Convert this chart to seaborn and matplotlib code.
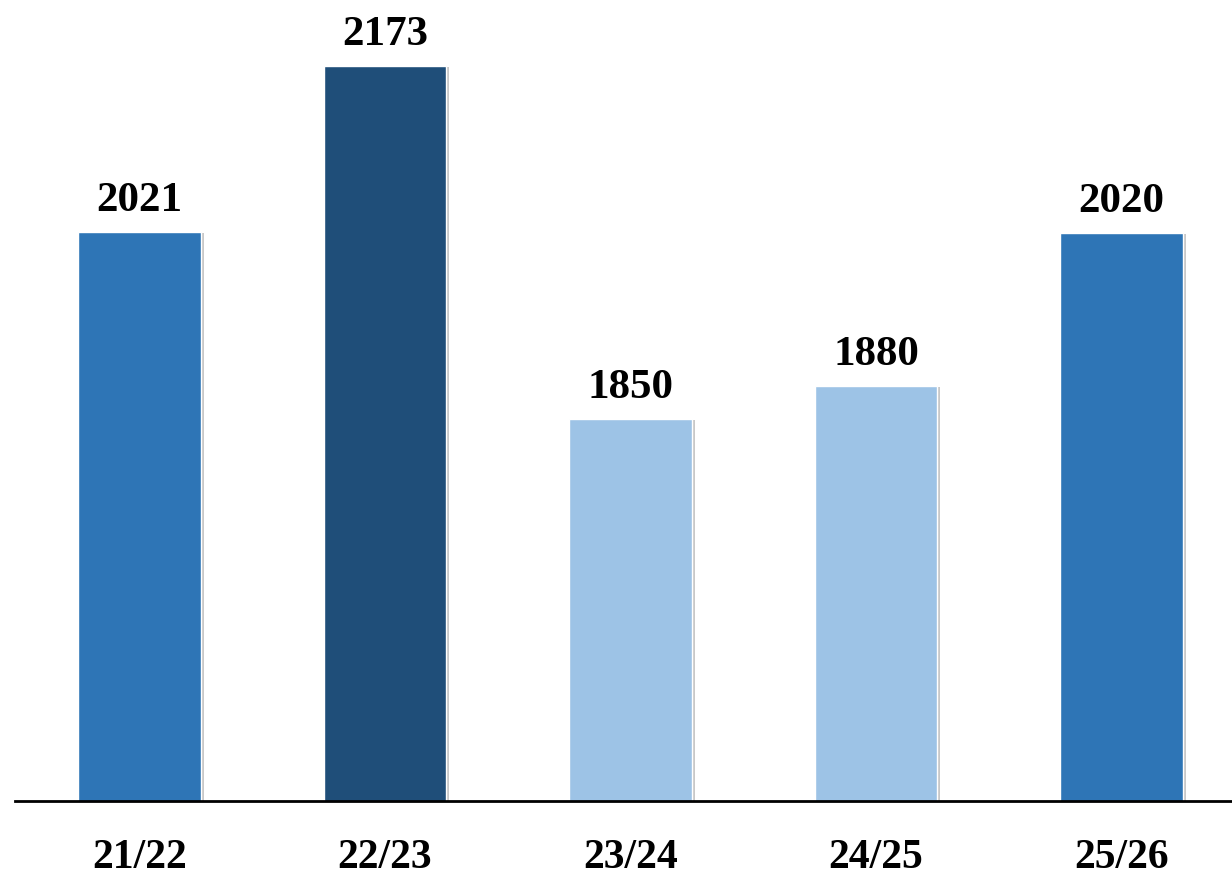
import pandas as pd
import matplotlib
matplotlib.use('Agg')
import matplotlib.pyplot as plt
import matplotlib.patheffects as pe
import seaborn as sns

seasons = ['21/22', '22/23', '23/24', '24/25', '25/26']
values = [2021, 2173, 1850, 1880, 2020]
bar_colors = ['#2E75B6', '#1F4E79', '#9DC3E6', '#9DC3E6', '#2E75B6']

df = pd.DataFrame({'season': seasons, 'value': values})

sns.set_style('white')
plt.rcParams['font.family'] = ['Liberation Serif', 'DejaVu Serif']

fig = plt.figure(figsize=(12.32, 8.76), dpi=100)
ax = fig.add_axes([15 / 1232, 1 - 801 / 876, 1 - 15 / 1232, 801 / 876])
ax.patch.set_alpha(0)

sns.barplot(data=df, x='season', y='value', hue='season', palette=bar_colors,
            width=0.5, legend=False, ax=ax, saturation=1)

# light drop shadow on the bars
for bar in ax.patches:
    bar.set_path_effects([pe.SimplePatchShadow(offset=(2, -1), shadow_rgbFace='#777777', alpha=0.4),
                          pe.Normal()])

for i, v in enumerate(values):
    ax.annotate(str(v), (i, v), xytext=(0, 15), textcoords='offset points',
                ha='center', va='baseline', fontsize=31, fontweight='bold', color='black')

ax.set_xlim(-0.507, 4.45)
ax.set_ylim(1500, 2233)
ax.set_xlabel('')
ax.set_ylabel('')
ax.set_yticks([])
ax.tick_params(axis='x', length=0, pad=27, labelsize=30, labelcolor='black')
for lbl in ax.get_xticklabels():
    lbl.set_fontweight('bold')

for s in ['top', 'right', 'left']:
    ax.spines[s].set_visible(False)
ax.spines['bottom'].set_color('black')
ax.spines['bottom'].set_linewidth(2)

fig.savefig('out.png', dpi=100, facecolor='white')
